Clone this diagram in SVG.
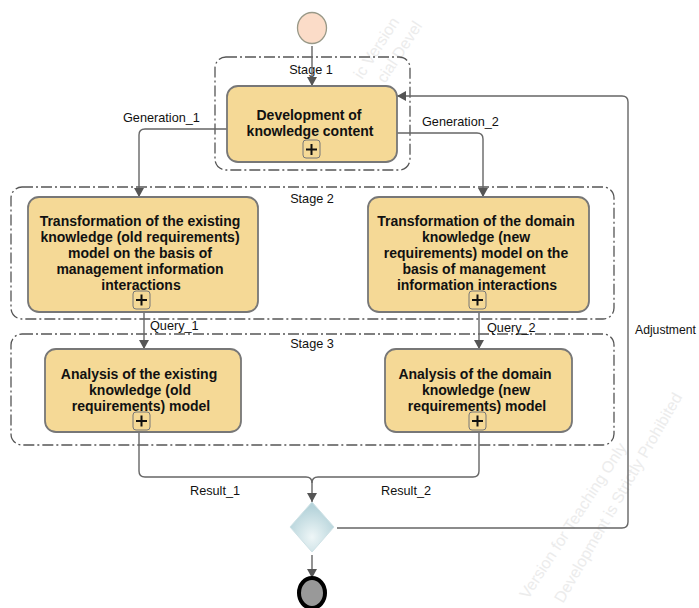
<svg xmlns="http://www.w3.org/2000/svg" width="699" height="608" viewBox="0 0 699 608">
<style>
text{font-family:"Liberation Sans",Arial,sans-serif;fill:#111}
.lb{font-size:12.7px}
.t{font-size:14px;font-weight:bold;text-anchor:middle}
.st{fill:none;stroke:#555;stroke-width:1.3;stroke-dasharray:11 3 2 3}
.task{fill:#f5d996;stroke:#777;stroke-width:1.8}
.plus{fill:#f5d996;stroke:#777;stroke-width:1}
.pm{stroke:#111;stroke-width:2;fill:none}
.c{fill:none;stroke:#666;stroke-width:1.4}
.wm{font-size:16px;fill:#ececec}
</style>
<defs>
<marker id="a" markerUnits="userSpaceOnUse" markerWidth="10" markerHeight="12" refX="9" refY="5" orient="auto"><path d="M0 0L9 5L0 10Z" fill="#555"/></marker>
<radialGradient id="dg" cx=".5" cy=".7" r=".6"><stop offset="0" stop-color="#eef6f7"/><stop offset="1" stop-color="#b5d3da"/></radialGradient>
</defs>
<g id="watermark">
<text class="wm" transform="translate(362 80) rotate(-57)">ic Version</text>
<text class="wm" transform="translate(385 84) rotate(-57)">cial Devel</text>
<text class="wm" transform="translate(528 600) rotate(-57)">Version for Teaching Only</text>
<text class="wm" transform="translate(563 604) rotate(-60)">Development is Strictly Prohibited</text>
</g>
<g id="stage1"><rect class="st" x="215" y="57" width="195" height="113" rx="11"/><text class="lb" x="311" y="74" text-anchor="middle">Stage 1</text></g>
<g id="stage2"><rect class="st" x="11" y="187" width="603" height="132" rx="11"/><text class="lb" x="312" y="203" text-anchor="middle">Stage 2</text></g>
<g id="stage3"><rect class="st" x="11" y="334" width="603" height="111" rx="11"/><text class="lb" x="312" y="348" text-anchor="middle">Stage 3</text></g>
<g id="connectors">
<path class="c" marker-end="url(#a)" d="M312 46V86"/>
<path class="c" marker-end="url(#a)" d="M227 129H145Q139 129 139 135V197"/>
<path class="c" marker-end="url(#a)" d="M397 133H477Q483 133 483 139V197"/>
<path class="c" marker-end="url(#a)" d="M144 312V349"/>
<path class="c" marker-end="url(#a)" d="M479 312V349"/>
<path class="c" d="M139 432V471Q139 477 145 477H306Q312 477 312 483"/>
<path class="c" marker-end="url(#a)" d="M479 432V471Q479 477 473 477H318Q312 477 312 483V502"/>
<path class="c" marker-end="url(#a)" d="M337 528H622Q628 528 628 522V102Q628 96 622 96H397"/>
<path class="c" marker-end="url(#a)" d="M312 555V578"/>
</g>
<g id="start"><ellipse cx="312" cy="28" rx="14.5" ry="15.500" fill="#fbdcc8" stroke="#998" stroke-width="1.3"/></g>
<g id="n1"><rect class="task" x="227" y="86" width="170" height="76" rx="11"/><text class="t" x="309" y="120">Development of</text><text class="t" x="310" y="136">knowledge content</text><rect class="plus" x="303" y="140" width="17" height="18" rx="3"/><path class="pm" d="M306 149.500H317M311.500 144V155"/></g>
<g id="n2"><rect class="task" x="28" y="197" width="230" height="115" rx="11"/><text class="t" x="140" y="226">Transformation of the existing</text><text class="t" x="140" y="242">knowledge (old requirements)</text><text class="t" x="140" y="258">model on the basis of</text><text class="t" x="140" y="274">management information</text><text class="t" x="141" y="290">interactions</text><rect class="plus" x="133" y="291" width="17" height="18" rx="3"/><path class="pm" d="M136 300H147M141.500 294.500V305.500"/></g>
<g id="n3"><rect class="task" x="368" y="197" width="221" height="115" rx="11"/><text class="t" x="476" y="226">Transformation of the domain</text><text class="t" x="476" y="242">knowledge (new</text><text class="t" x="476" y="258">requirements) model on the</text><text class="t" x="474" y="274">basis of management</text><text class="t" x="477" y="290">information interactions</text><rect class="plus" x="469" y="291" width="17" height="18" rx="3"/><path class="pm" d="M472 300H483M477.500 294.500V305.500"/></g>
<g id="n4"><rect class="task" x="45" y="349" width="196" height="83" rx="11"/><text class="t" x="139" y="379">Analysis of the existing</text><text class="t" x="140" y="395">knowledge (old</text><text class="t" x="141" y="411">requirements) model</text><rect class="plus" x="133" y="412" width="17" height="18" rx="3"/><path class="pm" d="M136 421H147M141.500 415.500V426.500"/></g>
<g id="n5"><rect class="task" x="385" y="349" width="187" height="83" rx="11"/><text class="t" x="475" y="379">Analysis of the domain</text><text class="t" x="476" y="395">knowledge (new</text><text class="t" x="477" y="411">requirements) model</text><rect class="plus" x="469" y="412" width="17" height="18" rx="3"/><path class="pm" d="M472 421H483M477.500 415.500V426.500"/></g>
<g id="gateway"><path d="M312 502L334 527L312 552L290 527Z" fill="url(#dg)" stroke="#cfe2e6"/></g>
<g id="end"><ellipse cx="312" cy="593" rx="13" ry="15" fill="#999" stroke="#000" stroke-width="4"/></g>
<g id="labels">
<text class="lb" x="123" y="122">Generation_1</text>
<text class="lb" x="422" y="126">Generation_2</text>
<text class="lb" x="150" y="330">Query_1</text>
<text class="lb" x="487" y="332">Query_2</text>
<text class="lb" x="635" y="334" style="font-size:12.2px">Adjustment</text>
<text class="lb" x="190" y="495">Result_1</text>
<text class="lb" x="381" y="495">Result_2</text>
</g>
</svg>
